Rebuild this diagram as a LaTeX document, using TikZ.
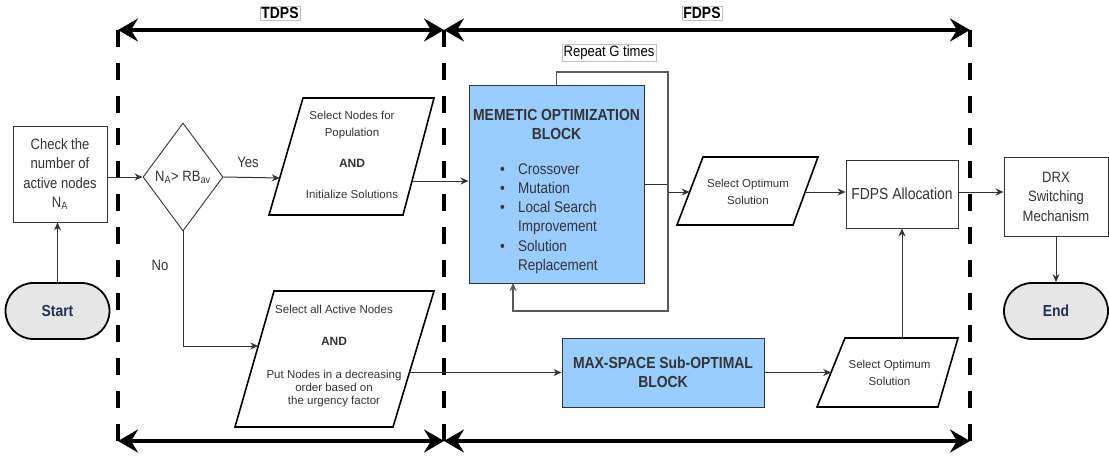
\documentclass[tikz,border=0pt]{standalone}
\usepackage{fontspec}
\setmainfont{Liberation Sans}
\newfontfamily\nar[FakeStretch=0.87]{Liberation Sans}
\usetikzlibrary{arrows.meta,shapes.geometric,calc}
\definecolor{blk}{HTML}{333333}
\definecolor{bluefill}{HTML}{99CCFF}
\definecolor{grayfill}{HTML}{E6E6E6}
\definecolor{navy}{HTML}{1E3250}
\begin{document}
\begin{tikzpicture}[x=1pt,y=-1pt,
  box/.style={draw=blk, line width=0.9pt, fill=white, inner sep=0pt, align=center, text=blk,
    font=\nar\fontsize{15}{19.5}\selectfont},
  term/.style={draw=black, line width=1.8pt, fill=grayfill, rounded corners=28pt,
    minimum width=104pt, minimum height=56pt, inner sep=0pt, text=navy,
    font=\nar\bfseries\fontsize{16}{19}\selectfont},
  bluebox/.style={draw=blk, line width=1pt, fill=bluefill, inner sep=0pt, align=center, text=blk},
  para/.style={draw=black, line width=1.6pt, fill=white, line join=miter},
  ptext/.style={align=center, text=blk, inner sep=0pt},
  conn/.style={draw=blk, line width=1pt, -{Stealth[length=8pt,width=7pt]}},
  plain/.style={draw=blk, line width=1pt},
  loopl/.style={draw=black!65, line width=1.4pt},
  bigarr/.style={line width=3.5pt, {Stealth[length=20pt,width=23pt,inset=7pt]}-{Stealth[length=20pt,width=23pt,inset=7pt]}},
  vdash/.style={line width=4pt, dash pattern=on 17pt off 15.83pt},
  lbl/.style={text=blk, inner sep=0pt, font=\nar\fontsize{15}{18}\selectfont},
  tag/.style={draw=black!25, line width=0.5pt, fill=white, inner sep=1.5pt, text=black}
]
\useasboundingbox (0,0) rectangle (1109,456);

% ---- phase markers ----
\coordinate (TL) at (118,30);  \coordinate (TM) at (444,30);  \coordinate (TR) at (970,30);
\coordinate (BL) at (118,441); \coordinate (BM) at (444,441); \coordinate (BR) at (970,441);
\draw[vdash] (TL) -- (BL);
\draw[vdash] (TM) -- (BM);
\draw[vdash] (TR) -- (BR);
\draw[bigarr] (TL) -- (TM);
\draw[bigarr] (TM) -- (TR);
\draw[bigarr] (BL) -- (BM);
\draw[bigarr] (BM) -- (BR);
\node[tag, font=\nar\bfseries\fontsize{16}{18}\selectfont] (tdps) at (280,13) {TDPS};
\node[tag, font=\nar\bfseries\fontsize{16}{18}\selectfont] (fdps) at (702,13) {FDPS};

% ---- left part ----
\node[term] (S) at (57.5,311) {Start};
\node[box, minimum width=94pt, minimum height=96pt] (C) at (60,174)
  {Check the\\number of\\active nodes\\N\textsubscript{A}};
\node[draw=blk, line width=0.9pt, fill=white, shape=diamond, inner sep=0pt, aspect=1,
  minimum width=80pt, minimum height=108pt, text=blk, font=\nar\fontsize{15}{18}\selectfont]
  (D) at (183,177) {N\textsubscript{A}> RB\textsubscript{av}};
\node[lbl] (yes) at (248,162) {Yes};
\node[lbl] (no) at (160,265) {No};

% upper TDPS parallelogram
\draw[para] (303,98) -- (434,98) -- (403,215) -- (269,215) -- cycle;
\node[ptext, font=\fontsize{11.5}{17}\selectfont] (P1) at (352,155)
  {Select Nodes for\\Population\\[14pt]{\bfseries\fontsize{12}{17}\selectfont AND}\\[14pt]Initialize Solutions};
\coordinate (P1in) at (279.8,178);
\coordinate (P1out) at (412,181);

% lower TDPS parallelogram
\draw[para] (274,291) -- (434,291) -- (393,427) -- (235,427) -- cycle;
\node[ptext, font=\fontsize{11.5}{12.8}\selectfont] (P2) at (334,356)
  {Select all Active Nodes\\[19pt]{\bfseries\fontsize{12}{13}\selectfont AND}\\[20pt]Put Nodes in a decreasing\\order based on\\the urgency factor};
\coordinate (P2in) at (258.2,346);
\coordinate (P2out) at (409.3,372.5);

% ---- FDPS part ----
\node[bluebox, minimum width=175pt, minimum height=198pt] (M) at (556.5,184) {};
\node[ptext, font=\nar\bfseries\fontsize{16}{19}\selectfont] (Mt) at (556.5,124.5)
  {MEMETIC OPTIMIZATION\\BLOCK};
\node[ptext, align=left, anchor=west, font=\nar\fontsize{15.5}{19.2}\selectfont] (Ml) at (499,218.5)
  {\makebox[19pt][l]{\hspace{1pt}•}Crossover\\
   \makebox[19pt][l]{\hspace{1pt}•}Mutation\\
   \makebox[19pt][l]{\hspace{1pt}•}Local Search\\
   \hspace*{19pt}Improvement\\
   \makebox[19pt][l]{\hspace{1pt}•}Solution\\
   \hspace*{19pt}Replacement};
\node[tag, font=\nar\fontsize{15}{18}\selectfont] (rep) at (609,53) {Repeat G times};
\coordinate (LT) at (556.5,72);
\coordinate (LR) at (668,72);
\coordinate (LJ) at (668,184);
\coordinate (LB) at (668,311);
\coordinate (Mret) at (513,283);
\coordinate (Oj) at (668,192);

\node[bluebox, minimum width=202pt, minimum height=69pt, font=\nar\bfseries\fontsize{16}{18.5}\selectfont]
  (B) at (663,372.5) {MAX-SPACE Sub-OPTIMAL\\BLOCK};

% upper select optimum
\draw[para] (703,157) -- (818,157) -- (793,225) -- (677,225) -- cycle;
\node[ptext, font=\fontsize{11.5}{17.5}\selectfont] (O1) at (748,192) {Select Optimum\\Solution};
\coordinate (O1in) at (689.6,192);
\coordinate (O1out) at (805,192);

% lower select optimum
\draw[para] (845,338) -- (958,338) -- (938,407) -- (817,407) -- cycle;
\node[ptext, font=\fontsize{11.5}{17}\selectfont] (O2) at (889.5,373) {Select Optimum\\Solution};
\coordinate (O2in) at (831.2,372.5);
\coordinate (O2top) at (902,338);

\node[box, minimum width=112pt, minimum height=68pt, font=\nar\fontsize{16}{19}\selectfont]
  (F) at (902,194) {FDPS Allocation};
\node[box, minimum width=104pt, minimum height=79pt] (X) at (1056,196.5) {DRX\\Switching\\Mechanism};
\node[term] (E) at (1056,311) {End};

% ---- connectors ----
\draw[conn] (S.north) -- (S.north |- C.south);
\draw[conn] (C.east |- D.west) -- (D.west);
\draw[conn] (D.east) -- (P1in);
\draw[conn] (D.south) |- (P2in);
\draw[conn] (P1out) -- (P1out -| M.west);
\draw[plain] (M.east) -- (LJ);
\draw[loopl, -{Stealth[length=8pt,width=7pt]}] (M.north) -- (LT) -- (LR) -- (LB) -| (Mret);
\draw[conn] (Oj) -- (O1in);
\draw[conn] (O1out) -- (O1out -| F.west);
\draw[conn] (F.east |- O1out) -- (X.west |- O1out);
\draw[conn] (X.south) -- (E.north);
\draw[conn] (P2out) -- (P2out -| B.west);
\draw[conn] (B.east) -- (O2in);
\draw[conn] (O2top) -- (O2top |- F.south);
\end{tikzpicture}
\end{document}
